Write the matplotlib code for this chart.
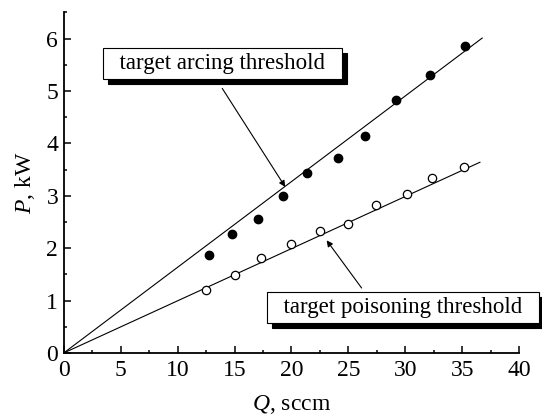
import matplotlib
matplotlib.use("Agg")
import matplotlib.pyplot as plt
from matplotlib.ticker import MultipleLocator
from matplotlib.transforms import offset_copy

plt.rcParams['font.family'] = ['Liberation Serif', 'DejaVu Serif']
plt.rcParams['mathtext.fontset'] = 'custom'
plt.rcParams['mathtext.it'] = 'Liberation Serif:italic'
plt.rcParams['mathtext.rm'] = 'Liberation Serif'

# arcing threshold (filled points)
q_arc = [12.75, 14.8, 17.1, 19.3, 21.4, 24.1, 26.5, 29.2, 32.2, 35.25]
p_arc = [1.87, 2.28, 2.55, 3.0, 3.44, 3.72, 4.15, 4.82, 5.30, 5.86]
# poisoning threshold (open points)
q_poi = [12.5, 15.05, 17.3, 20.0, 22.5, 25.0, 27.45, 30.15, 32.3, 35.15]
p_poi = [1.20, 1.49, 1.82, 2.08, 2.33, 2.47, 2.83, 3.04, 3.33, 3.55]
# fitted lines through origin
fit_arc_q = [0, 36.75]
fit_arc_p = [0, 6.01]
fit_poi_q = [0, 36.55]
fit_poi_p = [0, 3.64]

fig = plt.figure(figsize=(5.42, 4.19), dpi=100)
ax = fig.add_axes([0.1175, 0.1575, 0.8405, 0.813])

ax.plot(fit_arc_q, fit_arc_p, color='k', lw=0.8)
ax.plot(fit_poi_q, fit_poi_p, color='k', lw=0.8)
ax.plot(q_arc, p_arc, 'o', color='k', ms=6, zorder=3)
ax.plot(q_poi, p_poi, 'o', mfc='white', mec='k', mew=0.9, ms=6, zorder=3)

ax.set_xlim(0, 40)
ax.set_ylim(0, 6.5)
ax.xaxis.set_major_locator(MultipleLocator(5))
ax.xaxis.set_minor_locator(MultipleLocator(2.5))
ax.yaxis.set_major_locator(MultipleLocator(1))
ax.yaxis.set_minor_locator(MultipleLocator(0.5))
ax.tick_params(which='both', direction='in', width=1.1, labelsize=17)
ax.tick_params(axis='x', pad=5)
ax.tick_params(axis='y', pad=4)
ax.tick_params(which='major', length=5)
ax.tick_params(which='minor', length=2.5)
for s in ['top', 'right']:
    ax.spines[s].set_visible(False)
for s in ['left', 'bottom']:
    ax.spines[s].set_linewidth(1.3)

ax.set_xlabel('$Q$, sccm', fontsize=17, labelpad=9)
ax.set_ylabel('$P$, kW', fontsize=17, labelpad=7)

# labels with drop shadow
def label_box(x, y, txt):
    sh = offset_copy(ax.transData, fig=fig, x=5, y=-5, units='dots')
    kw = dict(fontsize=16.5, ha='center', va='center', clip_on=False)
    ax.text(x, y, txt, transform=sh, color='k',
            bbox=dict(boxstyle='square,pad=0.22', fc='k', ec='k', lw=0.8), zorder=4, **kw)
    ax.text(x, y, txt, color='k',
            bbox=dict(boxstyle='square,pad=0.22', fc='white', ec='k', lw=0.8), zorder=5, **kw)

label_box(13.96, 5.53, '  target arcing threshold  ')
label_box(29.82, 0.876, '  target poisoning threshold  ')

arrow = dict(arrowstyle='-|>', color='k', lw=0.8, mutation_scale=9, shrinkA=0, shrinkB=0)
ax.annotate('', xy=(19.45, 3.17), xytext=(13.92, 5.05), arrowprops=arrow)
ax.annotate('', xy=(23.09, 2.15), xytext=(26.16, 1.24), arrowprops=arrow)

fig.savefig('out.png', dpi=100)
